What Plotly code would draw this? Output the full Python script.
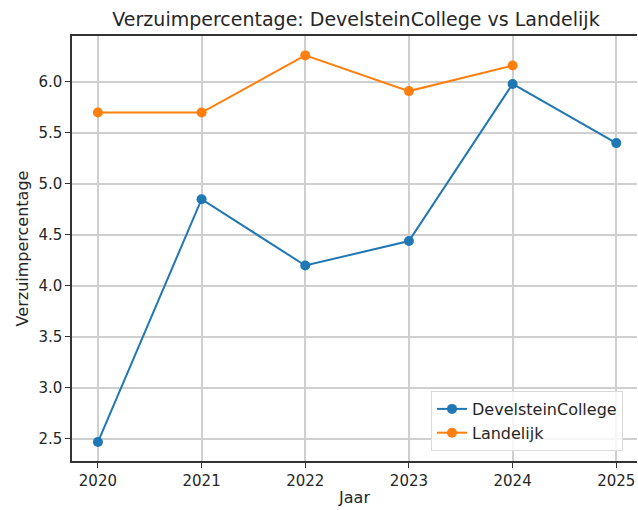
import plotly.graph_objects as go

years = [2020, 2021, 2022, 2023, 2024, 2025]
devel = [2.47, 4.85, 4.20, 4.44, 5.98, 5.40]
years_land = [2020, 2021, 2022, 2023, 2024]
landelijk = [5.70, 5.70, 6.26, 5.91, 6.16]
x_ticks = [2020, 2021, 2022, 2023, 2024, 2025]
y_ticks = [2.5, 3.0, 3.5, 4.0, 4.5, 5.0, 5.5, 6.0]

font = "DejaVu Sans"
fig = go.Figure()
fig.add_trace(go.Scatter(x=years, y=devel, mode="lines+markers", name="DevelsteinCollege",
                         line=dict(color="#1f77b4", width=2), marker=dict(size=10, color="#1f77b4")))
fig.add_trace(go.Scatter(x=years_land, y=landelijk, mode="lines+markers", name="Landelijk",
                         line=dict(color="#ff7f0e", width=2), marker=dict(size=10, color="#ff7f0e")))

L, R, T, B = 72, 1, 36, 49
pw = 638 - L - R
ph = 510 - T - B
fig.update_layout(
    width=638, height=510,
    margin=dict(l=L, r=R, t=T, b=B),
    paper_bgcolor="white", plot_bgcolor="white",
    font=dict(family=font, size=15, color="#262626"),
    title=dict(text="Verzuimpercentage: DevelsteinCollege vs Landelijk", x=356 / 638,
               xanchor="center", y=1 - 19 / 510, yanchor="middle", font=dict(size=19, color="#262626")),
    legend=dict(x=(431 - L) / pw, xanchor="left", y=(461 - 451) / ph, yanchor="bottom",
                bgcolor="rgba(255,255,255,0.8)", bordercolor="#d9d9d9", borderwidth=1,
                font=dict(size=16), tracegroupgap=2, itemwidth=30),
    showlegend=True,
)
fig.update_xaxes(range=[2019.75, 2025.2], tickvals=x_ticks, ticktext=[str(v) for v in x_ticks],
                 showgrid=True, gridcolor="#cfcfcf", gridwidth=1.5, automargin=False,
                 showline=True, linecolor="#333333", linewidth=1.5, mirror=True,
                 ticks="outside", ticklen=5, tickcolor="#333333", zeroline=False,
                 title=dict(text="Jaar", standoff=3, font=dict(size=16)))
fig.update_yaxes(range=[2.284, 6.45], tickvals=y_ticks, ticktext=[f"{v:.1f}" for v in y_ticks],
                 showgrid=True, gridcolor="#cfcfcf", gridwidth=1.5, automargin=False,
                 showline=True, linecolor="#333333", linewidth=1.5,
                 ticks="outside", ticklen=5, tickcolor="#333333", zeroline=False,
                 title=dict(text="Verzuimpercentage", standoff=6, font=dict(size=16)))

fig.write_html("out.html", config={"displayModeBar": False},
               post_script="document.body.style.margin='0';document.body.style.padding='0';")
